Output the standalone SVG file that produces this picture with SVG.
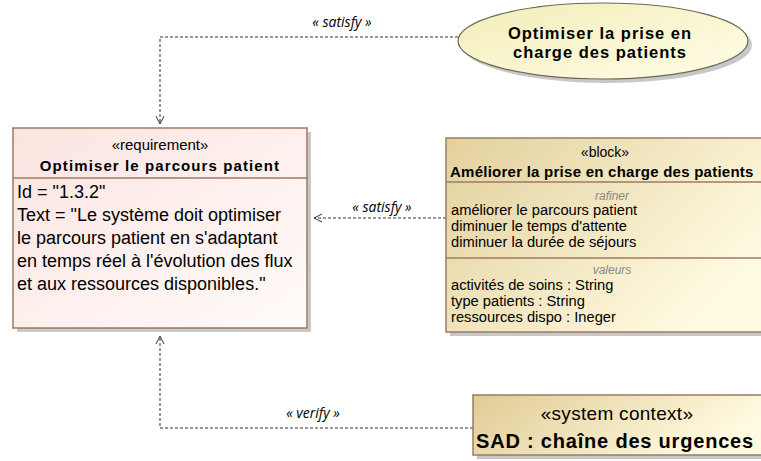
<svg xmlns="http://www.w3.org/2000/svg" width="761" height="461" viewBox="0 0 761 461">
<defs>
<linearGradient id="gReq" x1="0" y1="0" x2="1" y2="1"><stop offset="0" stop-color="#fbe4e0"/><stop offset="1" stop-color="#fffbfa"/></linearGradient>
<linearGradient id="gBlk" x1="0" y1="0" x2="1" y2="0.6"><stop offset="0" stop-color="#e3d09c"/><stop offset="1" stop-color="#fffbe2"/></linearGradient>
<linearGradient id="gEll" x1="0" y1="0" x2="1" y2="1"><stop offset="0" stop-color="#f3edb8"/><stop offset="1" stop-color="#fffde8"/></linearGradient>
<linearGradient id="gCtx" x1="0" y1="0" x2="1" y2="0.3"><stop offset="0" stop-color="#e0cb95"/><stop offset="1" stop-color="#fffae0"/></linearGradient>
<marker id="arr" markerWidth="12" markerHeight="12" refX="10" refY="6" orient="auto" markerUnits="userSpaceOnUse"><path d="M2,2 L10,6 L2,10" fill="none" stroke="#333" stroke-width="1"/></marker>
</defs>
<style>
.sh{fill:#b0b0b0;opacity:0.7}
.bd{stroke:#9c7b63;stroke-width:1.5}
.t{font-family:"Liberation Sans",Arial,sans-serif;fill:#000}
.lbl{font-family:"Open Sans","DejaVu Sans",sans-serif;font-style:italic;font-size:14px;fill:#000}
.cn{fill:none;stroke:#333;stroke-width:1;stroke-dasharray:3,2}
.gr{font-family:"Liberation Sans",Arial,sans-serif;font-style:italic;font-size:12px;fill:#888}
</style>
<rect width="761" height="461" fill="#fff"/>
<g id="connectors">
<path class="cn" d="M458,37 H160 V124" marker-end="url(#arr)"/>
<text class="lbl" x="342" y="27" text-anchor="middle">« satisfy »</text>
<path class="cn" d="M446,218 H314" marker-end="url(#arr)"/>
<text class="lbl" x="382" y="212" text-anchor="middle">« satisfy »</text>
<path class="cn" d="M473,428 H160 V336" marker-end="url(#arr)"/>
<text class="lbl" x="313" y="418" text-anchor="middle">« verify »</text>
</g>
<g id="req">
<rect class="sh" x="17" y="132" width="294" height="200"/>
<rect class="bd" x="13" y="128" width="294" height="200" fill="url(#gReq)"/>
<line class="bd" x1="13" y1="178" x2="307" y2="178"/>
<text class="t" x="160" y="150" text-anchor="middle" font-size="15">«requirement»</text>
<text class="t" x="160" y="171" text-anchor="middle" font-size="15" font-weight="bold" letter-spacing="1.1">Optimiser le parcours patient</text>
<text class="t" font-size="18"><tspan x="17" y="198">Id = "1.3.2"</tspan><tspan x="17" y="221">Text = "Le système doit optimiser</tspan><tspan x="17" y="244">le parcours patient en s'adaptant</tspan><tspan x="17" y="267">en temps réel à l'évolution des flux</tspan><tspan x="17" y="290">et aux ressources disponibles."</tspan></text>
</g>
<g id="goal">
<ellipse class="sh" cx="607" cy="45" rx="145" ry="38"/>
<ellipse cx="603" cy="41" rx="145" ry="38" fill="url(#gEll)" stroke="#6b6b55" stroke-width="1.2"/>
<text class="t" x="600" y="39" text-anchor="middle" font-size="16.5" font-weight="bold" letter-spacing="1">Optimiser la prise en</text>
<text class="t" x="600" y="58" text-anchor="middle" font-size="16.5" font-weight="bold" letter-spacing="1">charge des patients</text>
</g>
<g id="block">
<rect class="sh" x="450" y="142" width="320" height="194"/>
<rect class="bd" x="446" y="138" width="320" height="194" fill="url(#gBlk)"/>
<line class="bd" x1="446" y1="182" x2="766" y2="182"/>
<line class="bd" x1="446" y1="258" x2="766" y2="258"/>
<text class="t" x="605" y="157" text-anchor="middle" font-size="14">«block»</text>
<text class="t" x="450" y="177" font-size="15" font-weight="bold" letter-spacing="0.25">Améliorer la prise en charge des patients</text>
<text class="gr" x="612" y="200" text-anchor="middle">rafiner</text>
<text class="t" font-size="14.7"><tspan x="451" y="215">améliorer le parcours patient</tspan><tspan x="451" y="231">diminuer le temps d'attente</tspan><tspan x="451" y="247">diminuer la durée de séjours</tspan></text>
<text class="gr" x="612" y="274" text-anchor="middle">valeurs</text>
<text class="t" font-size="14.7"><tspan x="451" y="290">activités de soins : String</tspan><tspan x="451" y="306">type patients : String</tspan><tspan x="451" y="322">ressources dispo : Ineger</tspan></text>
</g>
<g id="context">
<rect class="sh" x="477" y="399" width="290" height="60"/>
<rect class="bd" x="473" y="395" width="290" height="60" fill="url(#gCtx)"/>
<text class="t" x="617" y="420" text-anchor="middle" font-size="19" letter-spacing="0.3">«system context»</text>
<text class="t" x="615" y="448" text-anchor="middle" font-size="20" font-weight="bold" letter-spacing="0.8">SAD : chaîne des urgences</text>
</g>
</svg>
